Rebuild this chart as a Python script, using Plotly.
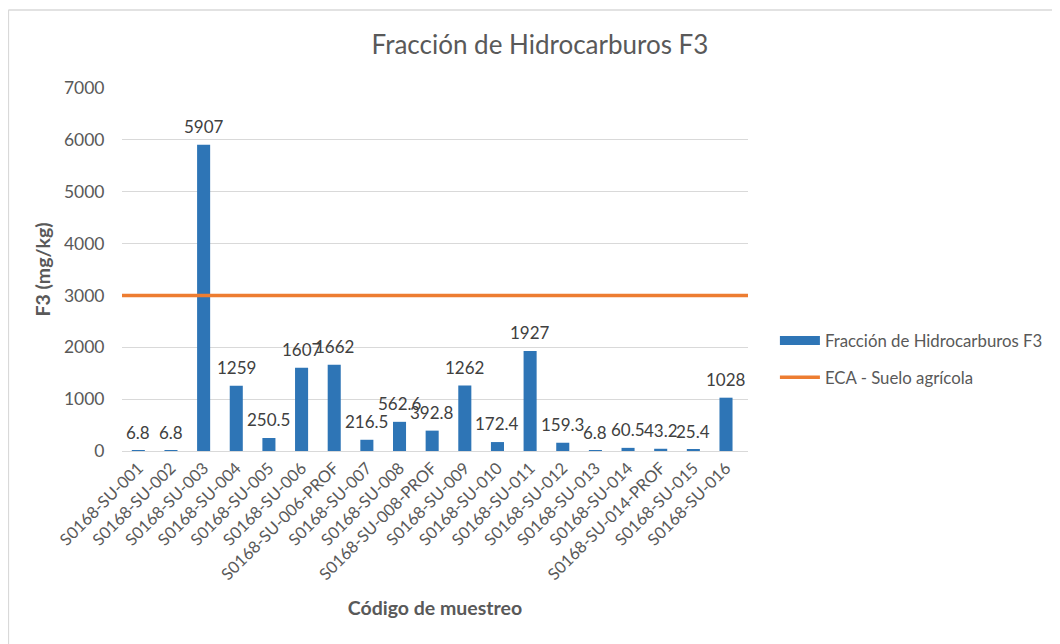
import plotly.graph_objects as go

categories = ["S0168-SU-001", "S0168-SU-002", "S0168-SU-003", "S0168-SU-004", "S0168-SU-005",
              "S0168-SU-006", "S0168-SU-006-PROF", "S0168-SU-007", "S0168-SU-008",
              "S0168-SU-008-PROF", "S0168-SU-009", "S0168-SU-010", "S0168-SU-011",
              "S0168-SU-012", "S0168-SU-013", "S0168-SU-014", "S0168-SU-014-PROF",
              "S0168-SU-015", "S0168-SU-016"]
f3_values = [6.8, 6.8, 5907, 1259, 250.5, 1607, 1662, 216.5, 562.6, 392.8, 1262, 172.4,
             1927, 159.3, 6.8, 60.5, 43.2, 25.4, 1028]
f3_labels = ["6.8", "6.8", "5907", "1259", "250.5", "1607", "1662", "216.5", "562.6", "392.8",
             "1262", "172.4", "1927", "159.3", "6.8", "60.5", "43.2", "25.4", "1028"]
eca_limit = 3000
eca_x = [0, 1]
y_ticks = [0, 1000, 2000, 3000, 4000, 5000, 6000, 7000]

FONT = "Lato, Carlito, Calibri, sans-serif"
GRAY = "#595959"
BLUE = "#2e75b6"
ORANGE = "#ed7d31"

fig = go.Figure()
fig.add_trace(go.Bar(
    x=categories, y=f3_values, name="Fracción de Hidrocarburos F3",
    marker=dict(color=BLUE, line=dict(width=0)),
    showlegend=False,
))
# legend proxy for the bar series (wide rectangle symbol as in the original)
fig.add_trace(go.Scatter(
    x=[None], y=[None], name="Fracción de Hidrocarburos F3", mode="lines",
    line=dict(color=BLUE, width=9), legendgroup="a",
))
fig.add_trace(go.Scatter(
    x=eca_x, y=[eca_limit, eca_limit], name="ECA - Suelo agrícola",
    mode="lines", line=dict(color=ORANGE, width=3.5), xaxis="x2", legendgroup="b",
))

# data labels above the bars
annotations = [
    dict(x=c, y=v, text=t, xref="x", yref="y", showarrow=False, yanchor="bottom",
         yshift=6, font=dict(family=FONT, size=17, color="#404040"))
    for c, v, t in zip(categories, f3_values, f3_labels)
]

W, H = 1052, 636
L, R, T, B = 114, 310, 80, 193
pw, ph = W - L - R, H - T - B

fig.update_layout(
    width=W, height=H,
    margin=dict(l=L, r=R, t=T, b=B, pad=0),
    paper_bgcolor="white", plot_bgcolor="white",
    font=dict(family=FONT, color=GRAY),
    title=dict(text="Fracción de Hidrocarburos F3", x=532 / W, xanchor="center",
               y=1 - 37 / H, yanchor="middle", font=dict(size=26, color=GRAY)),
    bargap=0.6,
    showlegend=True,
    legend=dict(x=(769 - L) / pw, xanchor="left", y=(H - B - 315) / ph, yanchor="top",
                font=dict(size=16.8, color=GRAY), tracegroupgap=12, itemwidth=40,
                traceorder="grouped", borderwidth=0),
    xaxis=dict(type="category", tickangle=-45, tickfont=dict(size=16.5, color=GRAY),
               showgrid=False, showline=True, linecolor="#d9d9d9", ticks="",
               title=dict(text="<b>Código de muestreo</b>", font=dict(size=19.5, color=GRAY),
                          standoff=18)),
    xaxis2=dict(overlaying="x", range=[0, 1], visible=False),
    yaxis=dict(range=[0, 7000], tickvals=y_ticks, showgrid=True, gridcolor="#d9d9d9",
               gridwidth=1, zeroline=False, tickfont=dict(size=17.5, color=GRAY),
               ticks="outside", ticklen=13, tickcolor="white",
               title=dict(text="<b>F3 (mg/kg)</b>", font=dict(size=19.5, color=GRAY), standoff=8)),
    annotations=annotations,
    shapes=[
        dict(type="line", xref="paper", yref="paper", x0=-L / pw, x1=2, y0=(H - B - 2) / ph,
             y1=(H - B - 2) / ph, line=dict(color="#d9d9d9", width=1.5)),
        dict(type="line", xref="paper", yref="paper", x0=-L / pw, x1=-L / pw,
             y0=(H - B - 2) / ph, y1=-2, line=dict(color="#d9d9d9", width=1.5)),
    ],
)

fig.write_html("out.html")
